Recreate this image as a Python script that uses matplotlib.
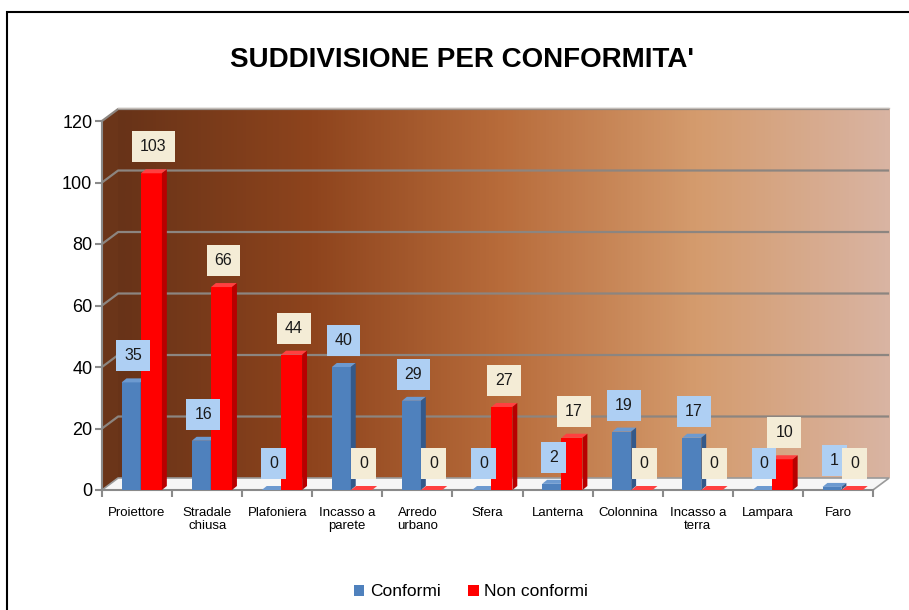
import numpy as np
import matplotlib
matplotlib.use("Agg")
import matplotlib.pyplot as plt
from matplotlib.patches import Polygon, Rectangle, Patch
from matplotlib.colors import LinearSegmentedColormap

plt.rcParams["font.family"] = ["Liberation Sans Narrow", "Liberation Sans", "DejaVu Sans"]

# ------------------------------------------------------------------
# Data
# ------------------------------------------------------------------
categories = ["Proiettore", "Stradale\nchiusa", "Plafoniera", "Incasso a\nparete",
              "Arredo\nurbano", "Sfera", "Lanterna", "Colonnina", "Incasso a\nterra",
              "Lampara", "Faro"]
conformi = [35, 16, 0, 40, 29, 0, 2, 19, 17, 0, 1]
non_conformi = [103, 66, 44, 0, 0, 27, 17, 0, 0, 10, 0]
y_ticks = [0, 20, 40, 60, 80, 100, 120]

# styling
W, H = 909, 610
n = len(categories)
ymax = 120
depth_x, depth_y = 0.23, 3.9      # wall depth (data units)
bar_dx, bar_dy = 0.07, 1.3        # bar depth
grid_col = "#8c8580"

fig = plt.figure(figsize=(W / 100, H / 100), dpi=100)
ax = fig.add_axes([102 / W, (H - 490) / H, 771 / W, 369 / H])
ax.set_xlim(0, n)
ax.set_ylim(0, ymax)
for s in ax.spines.values():
    s.set_visible(False)

# back wall gradient
wall_cmap = LinearSegmentedColormap.from_list(
    "wall", ["#683318", "#8e441d", "#b86c3b", "#d49b6d", "#d9b4a2"])
grad = np.linspace(0, 1, 256).reshape(1, -1)
ax.imshow(grad, cmap=wall_cmap, aspect="auto",
          extent=[depth_x, n + depth_x, depth_y, ymax + depth_y],
          zorder=0, clip_on=False, interpolation="bicubic")

# left side wall
ax.add_patch(Polygon([(0, 0), (depth_x, depth_y), (depth_x, ymax + depth_y), (0, ymax)],
                     closed=True, facecolor="#6b3519", edgecolor="none",
                     zorder=0.5, clip_on=False))

# gridlines bending on side wall
for v in y_ticks[1:]:
    ax.plot([0, depth_x, n + depth_x], [v, v + depth_y, v + depth_y],
            color=grid_col, lw=1.6, zorder=1, clip_on=False, solid_capstyle="butt")
ax.plot([depth_x, n + depth_x], [ymax + depth_y + 0.4] * 2, color="#c4bdb8",
        lw=1.0, zorder=1, clip_on=False)

# floor
ax.add_patch(Polygon([(0, 0), (n, 0), (n + depth_x, depth_y), (depth_x, depth_y)],
                     closed=True, facecolor="#f6f6f6", edgecolor="#9a9a9a", lw=1.2,
                     zorder=1.5, clip_on=False))

# axes lines
ax.plot([0, 0], [0, ymax], color="#8a8a8a", lw=1.5, zorder=2, clip_on=False)
ax.plot([0, n], [0, 0], color="#8a8a8a", lw=1.5, zorder=2, clip_on=False)


def draw_bars(offset, width, values, front, side, top):
    x = np.arange(n) + offset
    ax.bar(x, values, width=width, align="edge", color=front, edgecolor="none",
           zorder=3)
    for xi, v in zip(x, values):
        ax.add_patch(Polygon([(xi, v), (xi + width, v), (xi + width + bar_dx, v + bar_dy),
                              (xi + bar_dx, v + bar_dy)], closed=True,
                             facecolor=top, edgecolor="none", zorder=3))
        if v > 0:
            ax.add_patch(Polygon([(xi + width, 0), (xi + width + bar_dx, bar_dy),
                                  (xi + width + bar_dx, v + bar_dy), (xi + width, v)],
                                 closed=True, facecolor=side, edgecolor="none", zorder=3))
    return x + width / 2


blue_x = draw_bars(0.28, 0.27, conformi, "#4f81bd", "#34598a", "#6d9ad0")
red_x = draw_bars(0.555, 0.30, non_conformi, "#ff0000", "#b80000", "#ff4040")

# data labels
for xs, vals, box in [(blue_x, conformi, "#aecff3"), (red_x, non_conformi, "#f4ecd6")]:
    for xi, v in zip(xs, vals):
        ax.text(xi + 0.03, v + 8.6, str(v), ha="center", va="center", fontsize=11.5,
                color="#1a1a1a", zorder=5,
                bbox=dict(boxstyle="square,pad=0.5", facecolor=box, edgecolor="none"))

# ticks
ax.set_yticks(y_ticks)
ax.set_yticklabels([str(v) for v in y_ticks], fontsize=13)
ax.tick_params(axis="y", length=5, width=1.5, color="#8a8a8a", pad=2)
ax.set_xticks(np.arange(n + 1))
ax.set_xticklabels([""] * (n + 1))
ax.tick_params(axis="x", which="major", length=5, width=1.5, color="#8a8a8a")
ax.set_xticks(np.arange(n) + 0.5, minor=True)
ax.set_xticklabels(categories, minor=True, fontsize=9.5, linespacing=1.1)
ax.tick_params(axis="x", which="minor", length=0, pad=12)

# title
fig.text(0.508, 1 - 60 / H, "SUDDIVISIONE PER CONFORMITA'", ha="center", va="center",
         fontsize=20, fontweight="bold")

# legend
handles = [Patch(facecolor="#4f81bd", label="Conformi"),
           Patch(facecolor="#ff0000", label="Non conformi")]
fig.legend(handles=handles, loc="center", bbox_to_anchor=(0.518, 1 - 592 / H), ncol=2,
           frameon=False, fontsize=12.5, handlelength=0.6, handleheight=0.6,
           handletextpad=0.3, columnspacing=1.6)

# outer border
fig.add_artist(Rectangle((7 / W, -0.05), 1.1, 1 - 12 / H + 0.05, transform=fig.transFigure,
                         facecolor="none", edgecolor="black", lw=1.5, clip_on=False))

fig.savefig("out.png", dpi=100)
